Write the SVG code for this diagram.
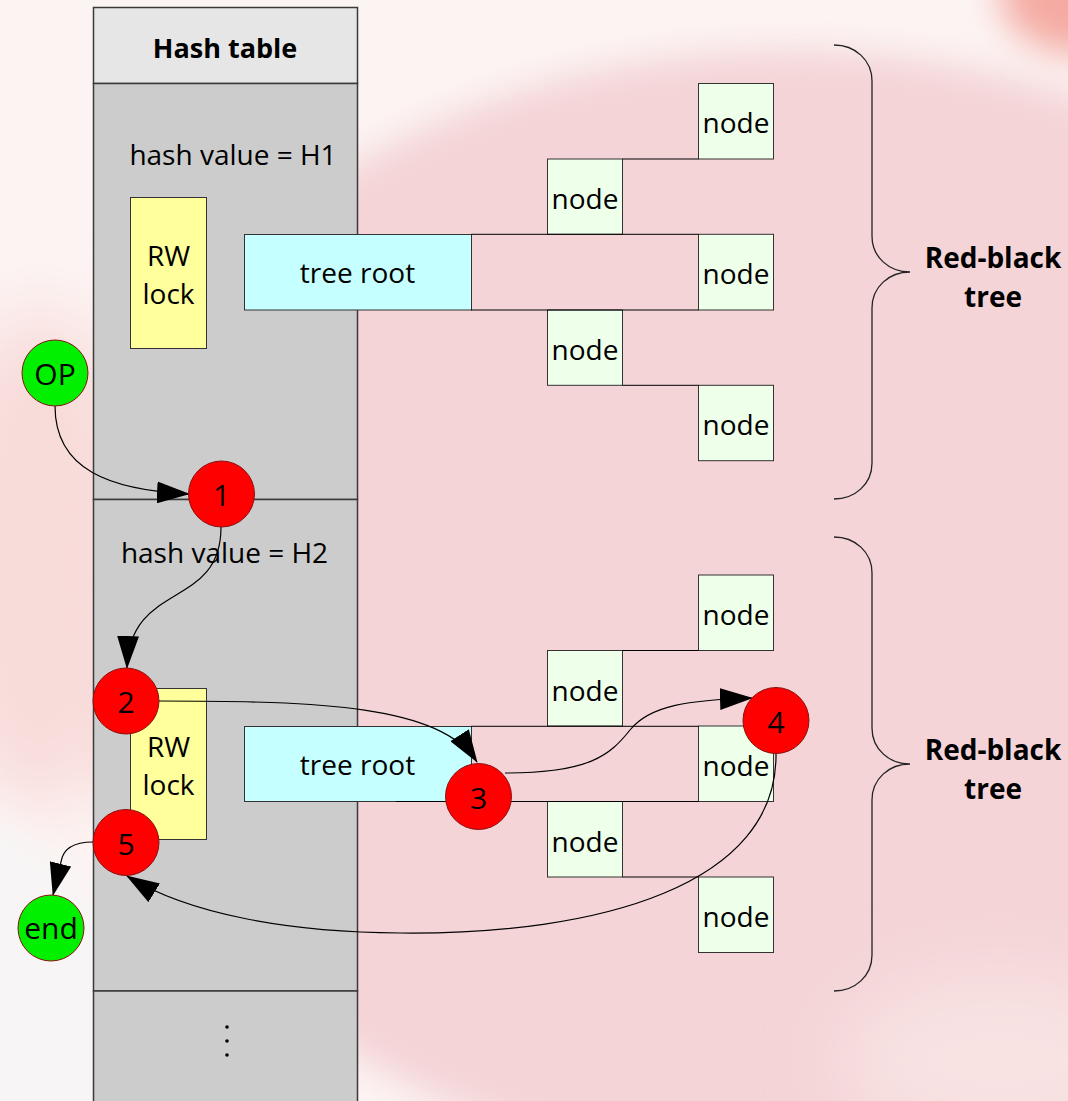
<svg xmlns="http://www.w3.org/2000/svg" width="1068" height="1101" viewBox="0 0 1068 1101">
<style>
text{font-family:"Open Sans","Liberation Sans",sans-serif;fill:#000;text-anchor:middle}
.t27{font-size:28px}
.b27{font-size:27px;font-weight:bold}
.b28{font-size:28px;font-weight:bold}
.c30{font-size:30px}
.col{stroke:#3a3a3a;stroke-width:1.5}
.box{stroke:#333;stroke-width:1}
.lock{fill:#ffff9c}
.root{fill:#c6ffff}
.nd{fill:#eeffea}
.red{fill:#ff0000;stroke:#8a1010;stroke-width:1}
.grn{fill:#00f000;stroke:#8a1010;stroke-width:1}
.ln{fill:none;stroke:#000;stroke-width:1}
.ar{fill:none;stroke:#000;stroke-width:1.2;marker-end:url(#ah)}
.brace{fill:none;stroke:#222;stroke-width:1.3}
</style>
<defs>
<marker id="ah" viewBox="0 0 33 22" refX="32" refY="11" markerWidth="33" markerHeight="22" markerUnits="userSpaceOnUse" orient="auto">
<path d="M0,0 L33,11 L0,22 z" fill="#000"/>
</marker>
<filter id="bl" x="-50%" y="-50%" width="200%" height="200%"><feGaussianBlur stdDeviation="18"/></filter>
<filter id="bl2" x="-50%" y="-50%" width="200%" height="200%"><feGaussianBlur stdDeviation="35"/></filter>
</defs>
<g id="background">
<rect x="0" y="0" width="1068" height="1101" fill="#fcf4f3"/>
<ellipse cx="790" cy="610" rx="720" ry="560" fill="#f4d4d7" filter="url(#bl)"/>
<ellipse cx="40" cy="560" rx="110" ry="250" fill="#f8dcda" filter="url(#bl2)"/>
<ellipse cx="-40" cy="1010" rx="170" ry="250" fill="#f7f5f5" transform="rotate(-35 -40 1010)" filter="url(#bl)"/>
<ellipse cx="1085" cy="-5" rx="85" ry="60" fill="#f4aaa2" filter="url(#bl)"/>
<ellipse cx="1000" cy="1060" rx="160" ry="90" fill="#f8e2e2" filter="url(#bl2)"/>
</g>
<g id="hash-table">
<rect class="col" x="93.5" y="7.5" width="264" height="76" fill="#e6e6e6"/>
<rect class="col" x="93.5" y="83.5" width="264" height="416" fill="#cccccc"/>
<rect class="col" x="93.5" y="499.5" width="264" height="491.5" fill="#cccccc"/>
<rect class="col" x="93.5" y="991" width="264" height="120" fill="#cccccc"/>
<text class="b27" x="225" y="58">Hash table</text>
<text class="t27" x="233" y="165">hash value = H1</text>
<text class="t27" x="224.5" y="563">hash value = H2</text>
<circle cx="227" cy="1027" r="1.8" fill="#000"/>
<circle cx="227" cy="1041" r="1.8" fill="#000"/>
<circle cx="227" cy="1055" r="1.8" fill="#000"/>
</g>
<g id="rwlock1"><rect class="box lock" x="130.5" y="197.5" width="76" height="151"/><text class="t27" x="168.5" y="265.5">RW</text><text class="t27" x="168.5" y="304">lock</text></g>
<g id="rwlock2"><rect class="box lock" x="130.5" y="688.5" width="76" height="151"/><text class="t27" x="168.5" y="757">RW</text><text class="t27" x="168.5" y="795">lock</text></g>
<g id="treeroot1"><rect class="box root" x="244.5" y="234.5" width="227" height="75.5"/><text class="t27" x="357.5" y="283">tree root</text></g>
<g id="treeroot2"><rect class="box root" x="244.5" y="726.5" width="227" height="75"/><text class="t27" x="357.5" y="775">tree root</text></g>
<g id="t1n1"><rect class="box nd" x="698.5" y="83.5" width="75" height="75.5"/><text class="t27" x="736" y="133.3">node</text></g>
<g id="t1n2"><rect class="box nd" x="547.5" y="159" width="75" height="75.3"/><text class="t27" x="585" y="209">node</text></g>
<g id="t1n3"><rect class="box nd" x="698.5" y="234.3" width="75" height="75.7"/><text class="t27" x="736" y="284.3">node</text></g>
<g id="t1n4"><rect class="box nd" x="547.5" y="310" width="75" height="75.3"/><text class="t27" x="585" y="360">node</text></g>
<g id="t1n5"><rect class="box nd" x="698.5" y="385.3" width="75" height="75.4"/><text class="t27" x="736" y="435.3">node</text></g>
<g id="t2n1"><rect class="box nd" x="698.5" y="575" width="75" height="75.5"/><text class="t27" x="736" y="625">node</text></g>
<g id="t2n2"><rect class="box nd" x="547.5" y="650.5" width="75" height="75.5"/><text class="t27" x="585" y="700.7">node</text></g>
<g id="t2n3"><rect class="box nd" x="698.5" y="726" width="75" height="75.5"/><text class="t27" x="736" y="776">node</text></g>
<g id="t2n4"><rect class="box nd" x="547.5" y="801.5" width="75" height="75.5"/><text class="t27" x="585" y="851.7">node</text></g>
<g id="t2n5"><rect class="box nd" x="698.5" y="877" width="75" height="75.5"/><text class="t27" x="736" y="927">node</text></g>
<g id="brace1"><path class="brace" d="M834,45 C855,45 872,60 872,81 L872,236 C872,257 889,272 910,272 C889,272 872,287 872,308 L872,463 C872,484 855,499 834,499"/><text class="b28" x="993" y="268">Red-black</text><text class="b28" x="993" y="307">tree</text></g>
<g id="brace2"><path class="brace" d="M834,537 C855,537 872,552 872,573 L872,728 C872,749 889,764 910,764 C889,764 872,779 872,800 L872,955 C872,976 855,991 834,991"/><text class="b28" x="993" y="760">Red-black</text><text class="b28" x="993" y="799">tree</text></g>
<g id="connectors">
<path class="ln" d="M471,234.3 H698.5 M622.5,159 H698.5 M471,310 H698.5 M622.5,385.3 H698.5"/>
<path class="ln" d="M471,726.3 H698.5 M622.5,650.5 H698.5 M396,801.5 H698.5 M622.5,877 H698.5"/>
<path class="ar" d="M55,406 C55,470 110,490 189,494"/>
<path class="ar" d="M221,527 C221,610 130,580 127,668"/>
<path class="ar" d="M159,701 C320,701 440,705 477,762"/>
<path class="ar" d="M505,773 C590,773 610,755 630,730 C650,705 690,700 752,698"/>
<path class="ar" d="M776,753 C778,885 600,935 400,933 C290,932 190,915 127,876"/>
<path class="ar" d="M93,842 C75,842 63,848 61,862 L53,895"/>
</g>
<g id="op"><circle class="grn" cx="55" cy="373" r="33"/><text class="c30" x="55" y="385">OP</text></g>
<g id="step1"><circle class="red" cx="221.5" cy="494" r="33"/><text class="c30" x="221.5" y="506">1</text></g>
<g id="step2"><circle class="red" cx="126" cy="701" r="33"/><text class="c30" x="126" y="713">2</text></g>
<g id="step3"><circle class="red" cx="478.5" cy="796.5" r="33"/><text class="c30" x="478.5" y="808.5">3</text></g>
<g id="step4"><circle class="red" cx="776" cy="720.5" r="33"/><text class="c30" x="776" y="732.5">4</text></g>
<g id="step5"><circle class="red" cx="126" cy="842.5" r="33"/><text class="c30" x="126" y="854.5">5</text></g>
<g id="end"><circle class="grn" cx="51" cy="928" r="33"/><text class="c30" x="51" y="939">end</text></g>
</svg>
